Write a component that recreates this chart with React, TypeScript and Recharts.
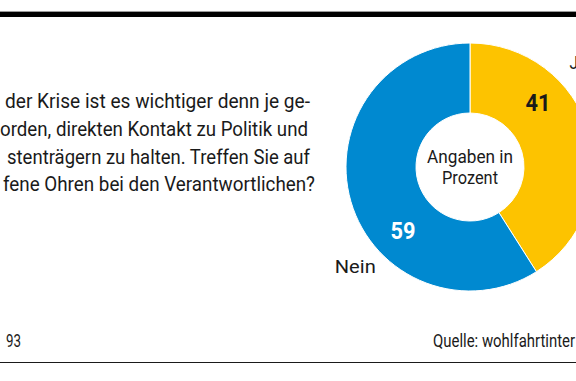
import React from "react";
import { PieChart, Pie, Cell } from "recharts";

const categories = ["Ja", "Nein"];
const values = [41, 59];
const colors = ["#FDC300", "#0089D0"];
const valueColors = ["#1a1a1a", "#ffffff"];
const questionLines = [
  "der Krise ist es wichtiger denn je ge-",
  "orden, direkten Kontakt zu Politik und",
  "stenträgern zu halten. Treffen Sie auf",
  "fene Ohren bei den Verantwortlichen?",
];
const centerLines = ["Angaben in", "Prozent"];
const pageNumber = "93";
const sourceText = "Quelle: wohlfahrtinter";

const data = categories.map((name, i) => ({ name, value: values[i] }));

const W = 576;
const H = 381;
const FONT = "Roboto, 'Noto Sans', sans-serif";
const RAD = Math.PI / 180;
const valueAngles = [43, 224];
const valueRadius = 93;
const nameAngles = [44, 221];
const nameRadius = [150, 152];
const nameLen = [17, 41];

const questionX = [5, 0, 7, 3];
const questionLen = [305, 308, 303, 312];
const questionY = [108, 136, 164, 191];
const centerLen = [86, 56];

function renderLabel(props: any) {
  const { cx, cy, index, value, name } = props;
  const va = valueAngles[index] * RAD;
  const na = nameAngles[index] * RAD;
  const vx = cx + valueRadius * Math.cos(va);
  const vy = cy - valueRadius * Math.sin(va);
  const nx = cx + nameRadius[index] * Math.cos(na);
  const ny = cy - nameRadius[index] * Math.sin(na);
  return (
    <g key={`lbl-${index}`}>
      <text
        x={vx}
        y={vy}
        textAnchor="middle"
        dominantBaseline="central"
        fill={valueColors[index]}
        fontFamily={FONT}
        fontWeight="bold"
        fontSize={23}
        textLength={25}
        lengthAdjust="spacingAndGlyphs"
      >
        {value}
      </text>
      <text
        x={nx - nameLen[index] / 2}
        y={ny}
        dominantBaseline="central"
        fill="#1a1a1a"
        fontFamily={FONT}
        fontSize={19}
        textLength={nameLen[index]}
        lengthAdjust="spacingAndGlyphs"
      >
        {name}
      </text>
    </g>
  );
}

export default function App() {
  return (
    <div
      style={{
        position: "absolute",
        left: 0,
        top: 0,
        width: W,
        height: H,
        overflow: "hidden",
        background: "#ffffff",
      }}
    >
      <PieChart width={W} height={H} margin={{ top: 0, right: 0, bottom: 0, left: 0 }}>
        <Pie
          data={data}
          dataKey="value"
          nameKey="name"
          cx={470}
          cy={167}
          innerRadius={54}
          outerRadius={124}
          startAngle={90}
          endAngle={-270}
          stroke="#ffffff"
          strokeWidth={1}
          label={renderLabel}
          labelLine={false}
          isAnimationActive={false}
        >
          {data.map((d, i) => (
            <Cell key={d.name} fill={colors[i]} />
          ))}
        </Pie>
      </PieChart>
      <svg
        width={W}
        height={H}
        style={{ position: "absolute", left: 0, top: 0, pointerEvents: "none" }}
      >
        <rect x={0} y={11} width={W} height={1} fill="#9a9a9a" />
        <rect x={0} y={12} width={W} height={5} fill="#000000" />
        {questionLines.map((t, i) => (
          <text
            key={i}
            x={questionX[i]}
            y={questionY[i]}
            fontFamily={FONT}
            fontSize={20}
            fill="#1a1a1a"
            textLength={questionLen[i]}
            lengthAdjust="spacingAndGlyphs"
          >
            {t}
          </text>
        ))}
        {centerLines.map((t, i) => (
          <text
            key={i}
            x={470}
            y={163 + i * 21}
            textAnchor="middle"
            fontFamily={FONT}
            fontSize={19}
            fill="#1a1a1a"
            textLength={centerLen[i]}
            lengthAdjust="spacingAndGlyphs"
          >
            {t}
          </text>
        ))}
        <text
          x={6}
          y={347}
          fontFamily={FONT}
          fontSize={18}
          fill="#1a1a1a"
          textLength={15}
          lengthAdjust="spacingAndGlyphs"
        >
          {pageNumber}
        </text>
        <text
          x={433}
          y={347}
          fontFamily={FONT}
          fontSize={18}
          fill="#1a1a1a"
          textLength={142}
          lengthAdjust="spacingAndGlyphs"
        >
          {sourceText}
        </text>
        <rect x={0} y={362} width={W} height={1} fill="#1a1a1a" />
      </svg>
    </div>
  );
}
